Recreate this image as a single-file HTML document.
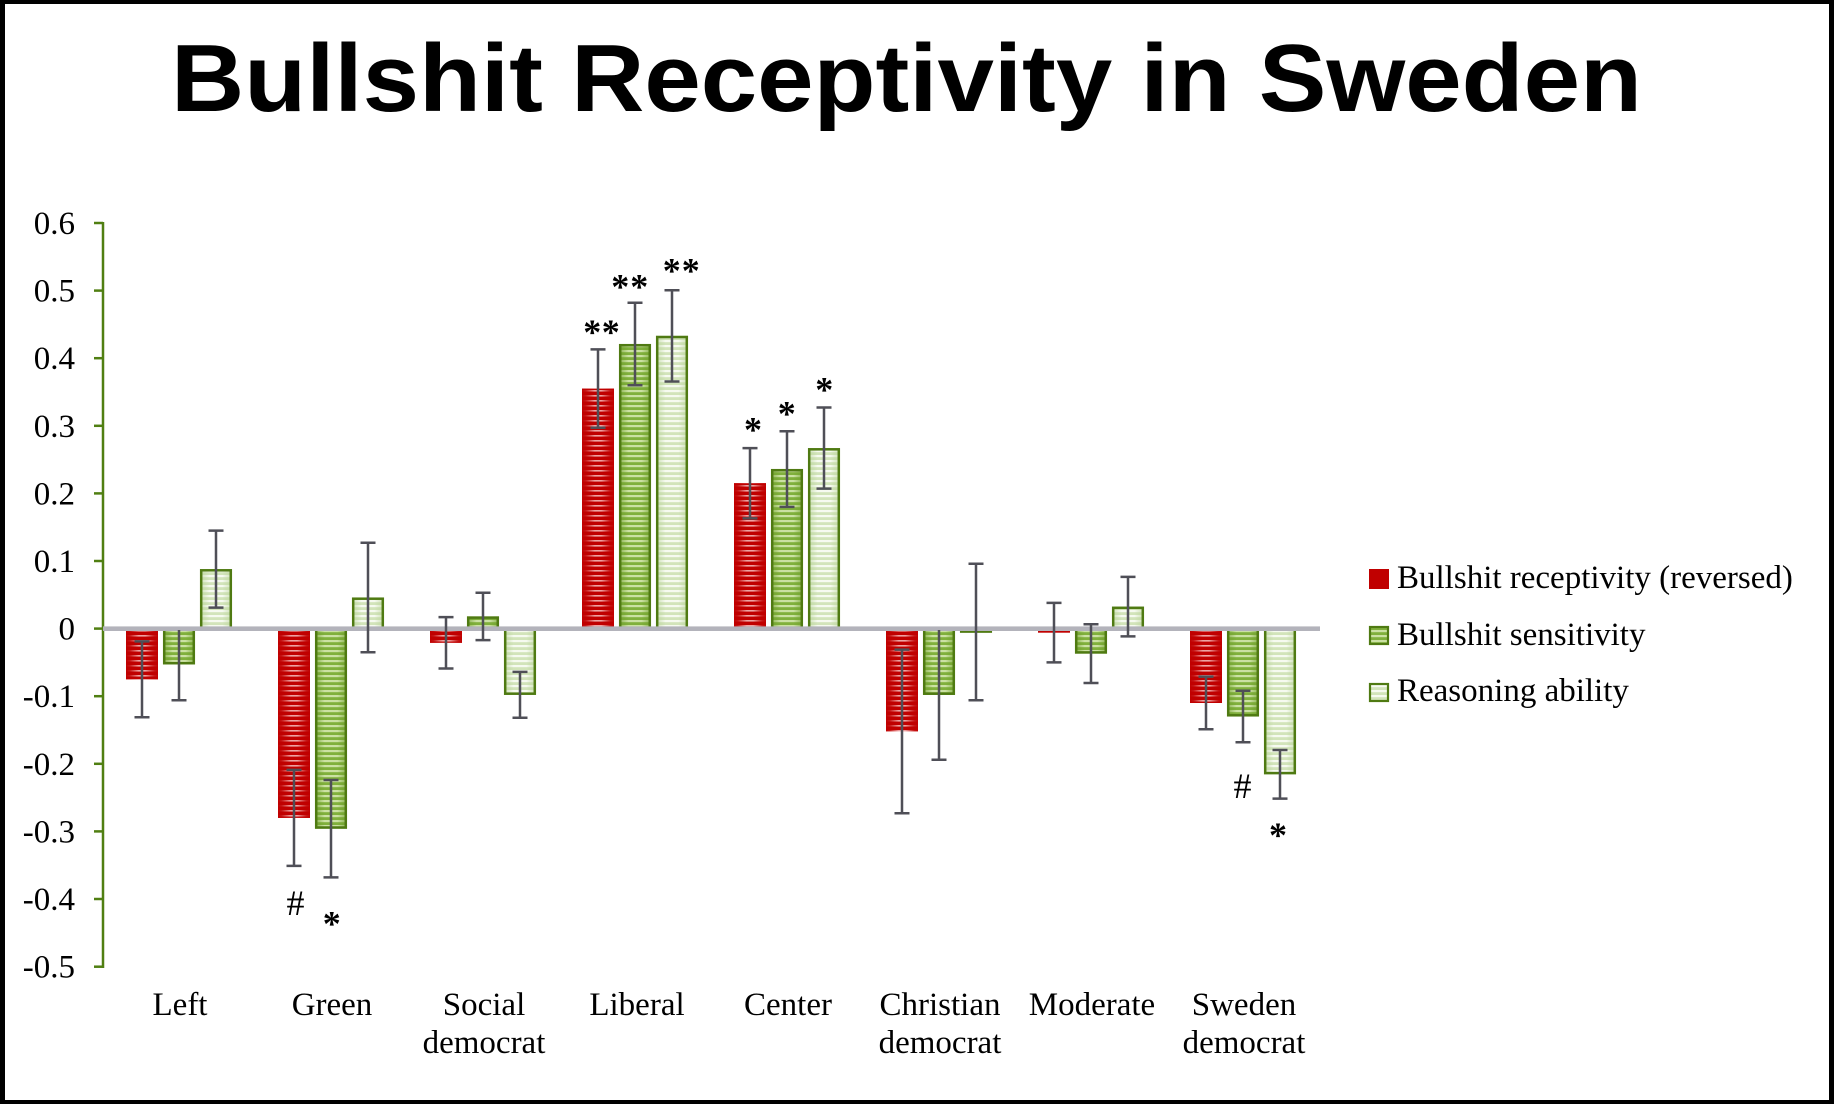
<!DOCTYPE html>
<html>
<head>
<meta charset="utf-8">
<style>
html,body{margin:0;padding:0;background:#fff;}
svg{display:block;}
text{font-family:"Liberation Serif","Times New Roman",serif;}
</style>
</head>
<body>
<svg width="1834" height="1104" viewBox="0 0 1834 1104" xmlns="http://www.w3.org/2000/svg">
<defs>
  <pattern id="redPat" patternUnits="userSpaceOnUse" width="10" height="5">
    <rect width="10" height="5" fill="#C00000"/>
    <rect y="0" width="10" height="1.6" fill="#EDA3A3"/>
  </pattern>
  <pattern id="greenPat" patternUnits="userSpaceOnUse" width="10" height="5">
    <rect width="10" height="5" fill="#80B03C"/>
    <rect y="0" width="10" height="2.2" fill="#CBE1A3"/>
  </pattern>
  <pattern id="lightPat" patternUnits="userSpaceOnUse" width="10" height="5">
    <rect width="10" height="5" fill="#D2E4BA"/>
    <rect y="0" width="10" height="2.2" fill="#F6FAF0"/>
  </pattern>
  <linearGradient id="redEdge" x1="0" y1="0" x2="1" y2="0">
    <stop offset="0" stop-color="#C00000" stop-opacity="1"/>
    <stop offset="0.12" stop-color="#C00000" stop-opacity="0.85"/>
    <stop offset="0.4" stop-color="#C00000" stop-opacity="0"/>
    <stop offset="0.6" stop-color="#C00000" stop-opacity="0"/>
    <stop offset="0.88" stop-color="#C00000" stop-opacity="0.85"/>
    <stop offset="1" stop-color="#C00000" stop-opacity="1"/>
  </linearGradient>
  <linearGradient id="greenEdge" x1="0" y1="0" x2="1" y2="0">
    <stop offset="0" stop-color="#6E9E2C" stop-opacity="0.7"/>
    <stop offset="0.3" stop-color="#6E9E2C" stop-opacity="0"/>
    <stop offset="0.7" stop-color="#6E9E2C" stop-opacity="0"/>
    <stop offset="1" stop-color="#6E9E2C" stop-opacity="0.7"/>
  </linearGradient>
  <linearGradient id="lightEdge" x1="0" y1="0" x2="1" y2="0">
    <stop offset="0" stop-color="#B9D39A" stop-opacity="0.7"/>
    <stop offset="0.3" stop-color="#B9D39A" stop-opacity="0"/>
    <stop offset="0.7" stop-color="#B9D39A" stop-opacity="0"/>
    <stop offset="1" stop-color="#B9D39A" stop-opacity="0.7"/>
  </linearGradient>
</defs>

<!-- frame -->
<rect x="0" y="0" width="1834" height="1104" fill="#000"/>
<rect x="5" y="4" width="1824" height="1096" fill="#fff"/>

<!-- title -->
<text x="171" y="111" font-family="Liberation Sans, Arial, sans-serif" style="font-family:'Liberation Sans',Arial,sans-serif" font-weight="bold" font-size="96" textLength="1471" lengthAdjust="spacingAndGlyphs" fill="#000">Bullshit Receptivity in Sweden</text>

<!-- y axis -->
<g stroke="#507F12" stroke-width="2.5">
  <line x1="103" y1="222" x2="103" y2="968"/>
  <line x1="94" y1="223" x2="103" y2="223"/>
  <line x1="94" y1="290.6" x2="103" y2="290.6"/>
  <line x1="94" y1="358.2" x2="103" y2="358.2"/>
  <line x1="94" y1="425.8" x2="103" y2="425.8"/>
  <line x1="94" y1="493.4" x2="103" y2="493.4"/>
  <line x1="94" y1="561.0" x2="103" y2="561.0"/>
  <line x1="94" y1="628.6" x2="103" y2="628.6"/>
  <line x1="94" y1="696.2" x2="103" y2="696.2"/>
  <line x1="94" y1="763.8" x2="103" y2="763.8"/>
  <line x1="94" y1="831.4" x2="103" y2="831.4"/>
  <line x1="94" y1="899.0" x2="103" y2="899.0"/>
  <line x1="94" y1="966.7" x2="103" y2="966.7"/>
</g>
<g font-size="33" fill="#000" text-anchor="end">
  <text x="75" y="234">0.6</text>
  <text x="75" y="301.6">0.5</text>
  <text x="75" y="369.2">0.4</text>
  <text x="75" y="436.8">0.3</text>
  <text x="75" y="504.4">0.2</text>
  <text x="75" y="572">0.1</text>
  <text x="75" y="639.6">0</text>
  <text x="75" y="707.2">-0.1</text>
  <text x="75" y="774.8">-0.2</text>
  <text x="75" y="842.4">-0.3</text>
  <text x="75" y="910">-0.4</text>
  <text x="75" y="977.7">-0.5</text>
</g>

<!-- bars: red -->
<g>
  <rect x="126" y="628.6" width="32" height="50.7" fill="url(#redPat)"/>
  <rect x="278" y="628.6" width="32" height="189.3" fill="url(#redPat)"/>
  <rect x="430" y="628.6" width="32" height="14.2" fill="url(#redPat)"/>
  <rect x="582" y="388.6" width="32" height="240" fill="url(#redPat)"/>
  <rect x="734" y="483.2" width="32" height="145.4" fill="url(#redPat)"/>
  <rect x="886" y="628.6" width="32" height="102.8" fill="url(#redPat)"/>
  <rect x="1038" y="628.6" width="32" height="4.1" fill="#C00000"/>
  <rect x="1190" y="628.6" width="32" height="74.4" fill="url(#redPat)"/>
</g>
<g>
  <rect x="126" y="628.6" width="32" height="50.7" fill="url(#redEdge)"/>
  <rect x="278" y="628.6" width="32" height="189.3" fill="url(#redEdge)"/>
  <rect x="430" y="628.6" width="32" height="14.2" fill="url(#redEdge)"/>
  <rect x="582" y="388.6" width="32" height="240" fill="url(#redEdge)"/>
  <rect x="734" y="483.2" width="32" height="145.4" fill="url(#redEdge)"/>
  <rect x="886" y="628.6" width="32" height="102.8" fill="url(#redEdge)"/>
  <rect x="1190" y="628.6" width="32" height="74.4" fill="url(#redEdge)"/>
</g>

<!-- bars: green (sensitivity) -->
<g>
  <rect x="163" y="628.6" width="32" height="35.8" fill="url(#greenPat)"/>
  <rect x="315" y="628.6" width="32" height="200.1" fill="url(#greenPat)"/>
  <rect x="467" y="616.4" width="32" height="12.2" fill="url(#greenPat)"/>
  <rect x="619" y="344.0" width="32" height="284.6" fill="url(#greenPat)"/>
  <rect x="771" y="469.0" width="32" height="159.6" fill="url(#greenPat)"/>
  <rect x="923" y="628.6" width="32" height="66.3" fill="url(#greenPat)"/>
  <rect x="1075" y="628.6" width="32" height="25" fill="url(#greenPat)"/>
  <rect x="1227" y="628.6" width="32" height="87.9" fill="url(#greenPat)"/>
</g>
<g>
  <rect x="163" y="628.6" width="32" height="35.8" fill="url(#greenEdge)"/>
  <rect x="315" y="628.6" width="32" height="200.1" fill="url(#greenEdge)"/>
  <rect x="467" y="616.4" width="32" height="12.2" fill="url(#greenEdge)"/>
  <rect x="619" y="344.0" width="32" height="284.6" fill="url(#greenEdge)"/>
  <rect x="771" y="469.0" width="32" height="159.6" fill="url(#greenEdge)"/>
  <rect x="923" y="628.6" width="32" height="66.3" fill="url(#greenEdge)"/>
  <rect x="1075" y="628.6" width="32" height="25" fill="url(#greenEdge)"/>
  <rect x="1227" y="628.6" width="32" height="87.9" fill="url(#greenEdge)"/>
</g>

<!-- bars: light (reasoning) -->
<g>
  <rect x="200" y="569.1" width="32" height="59.5" fill="url(#lightPat)"/>
  <rect x="352" y="597.5" width="32" height="31.1" fill="url(#lightPat)"/>
  <rect x="504" y="628.6" width="32" height="66.3" fill="url(#lightPat)"/>
  <rect x="656" y="335.8" width="32" height="292.8" fill="url(#lightPat)"/>
  <rect x="808" y="448.1" width="32" height="180.5" fill="url(#lightPat)"/>
  <rect x="960" y="628.6" width="32" height="3.4" fill="url(#lightPat)"/>
  <rect x="1112" y="606.6" width="32" height="22" fill="url(#lightPat)"/>
  <rect x="1264" y="628.6" width="32" height="145.7" fill="url(#lightPat)"/>
</g>
<g>
  <rect x="200" y="569.1" width="32" height="59.5" fill="url(#lightEdge)"/>
  <rect x="352" y="597.5" width="32" height="31.1" fill="url(#lightEdge)"/>
  <rect x="504" y="628.6" width="32" height="66.3" fill="url(#lightEdge)"/>
  <rect x="656" y="335.8" width="32" height="292.8" fill="url(#lightEdge)"/>
  <rect x="808" y="448.1" width="32" height="180.5" fill="url(#lightEdge)"/>
  <rect x="1112" y="606.6" width="32" height="22" fill="url(#lightEdge)"/>
  <rect x="1264" y="628.6" width="32" height="145.7" fill="url(#lightEdge)"/>
</g>

<!-- green borders -->
<g fill="none" stroke="#4F7A12" stroke-width="2.5">
  <rect x="164.2" y="628.6" width="29.6" height="34.6"/>
  <rect x="316.2" y="628.6" width="29.6" height="198.9"/>
  <rect x="468.2" y="617.6" width="29.6" height="11"/>
  <rect x="620.2" y="345.2" width="29.6" height="283.4"/>
  <rect x="772.2" y="470.2" width="29.6" height="158.4"/>
  <rect x="924.2" y="628.6" width="29.6" height="65.1"/>
  <rect x="1076.2" y="628.6" width="29.6" height="23.8"/>
  <rect x="1228.2" y="628.6" width="29.6" height="86.7"/>

  <rect x="201.2" y="570.3" width="29.6" height="58.3"/>
  <rect x="353.2" y="598.7" width="29.6" height="29.9"/>
  <rect x="505.2" y="628.6" width="29.6" height="65.1"/>
  <rect x="657.2" y="337.0" width="29.6" height="291.6"/>
  <rect x="809.2" y="449.3" width="29.6" height="179.3"/>
  <rect x="961.2" y="628.6" width="29.6" height="3"/>
  <rect x="1113.2" y="607.8" width="29.6" height="20.8"/>
  <rect x="1265.2" y="628.6" width="29.6" height="144.5"/>
</g>

<!-- zero line -->
<rect x="103" y="626.4" width="1217" height="4.6" fill="#B3B3BB"/>

<!-- error bars -->
<g stroke="#4F4F57" stroke-width="2.5" fill="none">
  <!-- Left -->
  <path d="M142 641.4V717.2M134.5 641.4H149.5M134.5 717.2H149.5"/>
  <path d="M179 630V700.3M171.5 700.3H186.5"/>
  <path d="M216 530.6V607.6M208.5 530.6H223.5M208.5 607.6H223.5"/>
  <!-- Green -->
  <path d="M294 769.9V865.9M286.5 769.9H301.5M286.5 865.9H301.5"/>
  <path d="M331 780V877.4M323.5 780H338.5M323.5 877.4H338.5"/>
  <path d="M368 542.7V652.3M360.5 542.7H375.5M360.5 652.3H375.5"/>
  <!-- Social -->
  <path d="M446 617.1V668.5M438.5 617.1H453.5M438.5 668.5H453.5"/>
  <path d="M483 592.8V640.1M475.5 592.8H490.5M475.5 640.1H490.5"/>
  <path d="M520 671.9V717.8M512.5 671.9H527.5M512.5 717.8H527.5"/>
  <!-- Liberal -->
  <path d="M598 349.4V427.8M590.5 349.4H605.5M590.5 427.8H605.5"/>
  <path d="M635 302.7V385.2M627.5 302.7H642.5M627.5 385.2H642.5"/>
  <path d="M672 290.2V381.5M664.5 290.2H679.5M664.5 381.5H679.5"/>
  <!-- Center -->
  <path d="M750 448.1V518.4M742.5 448.1H757.5M742.5 518.4H757.5"/>
  <path d="M787 431.2V506.9M779.5 431.2H794.5M779.5 506.9H794.5"/>
  <path d="M824 407.5V488.6M816.5 407.5H831.5M816.5 488.6H831.5"/>
  <!-- Christian -->
  <path d="M902 649.6V813.2M894.5 649.6H909.5M894.5 813.2H909.5"/>
  <path d="M939 630V759.8M931.5 759.8H946.5"/>
  <path d="M976 563.7V700.3M968.5 563.7H983.5M968.5 700.3H983.5"/>
  <!-- Moderate -->
  <path d="M1054 602.9V662.4M1046.5 602.9H1061.5M1046.5 662.4H1061.5"/>
  <path d="M1091 624.2V683M1083.5 624.2H1098.5M1083.5 683H1098.5"/>
  <path d="M1128 576.9V636.4M1120.5 576.9H1135.5M1120.5 636.4H1135.5"/>
  <!-- Sweden -->
  <path d="M1206 676.6V729.3M1198.5 676.6H1213.5M1198.5 729.3H1213.5"/>
  <path d="M1243 690.8V742.2M1235.5 690.8H1250.5M1235.5 742.2H1250.5"/>
  <path d="M1280 750V798.6M1272.5 750H1287.5M1272.5 798.6H1287.5"/>
</g>

<!-- significance markers -->
<g font-size="36" font-weight="bold" fill="#000" text-anchor="middle">
  <text x="592.3" y="344">*</text>
  <text x="610.7" y="344">*</text>
  <text x="620.3" y="298.7">*</text>
  <text x="639.3" y="298.7">*</text>
  <text x="671.7" y="282.3">*</text>
  <text x="690.7" y="282.3">*</text>
  <text x="753" y="441.3">*</text>
  <text x="786.7" y="425.7">*</text>
  <text x="824.3" y="401.3">*</text>
  <text x="331.7" y="935.5">*</text>
  <text x="1278" y="847">*</text>
</g>
<g font-size="36" fill="#000" text-anchor="middle">
  <text x="295.5" y="915">#</text>
  <text x="1242.5" y="798">#</text>
</g>

<!-- x labels -->
<g font-size="33" fill="#000" text-anchor="middle">
  <text x="180" y="1015">Left</text>
  <text x="332" y="1015">Green</text>
  <text x="484" y="1015">Social</text>
  <text x="484" y="1053">democrat</text>
  <text x="637" y="1015">Liberal</text>
  <text x="788" y="1015">Center</text>
  <text x="940" y="1015">Christian</text>
  <text x="940" y="1053">democrat</text>
  <text x="1092" y="1015">Moderate</text>
  <text x="1244" y="1015">Sweden</text>
  <text x="1244" y="1053">democrat</text>
</g>

<!-- legend -->
<rect x="1369" y="569" width="20" height="20" fill="#C00000"/>
<rect x="1369" y="626" width="20" height="19" fill="url(#greenPat)"/>
<rect x="1370" y="627" width="18" height="17" fill="none" stroke="#4F7A12" stroke-width="2.2"/>
<rect x="1369" y="683" width="20" height="19" fill="url(#lightPat)"/>
<rect x="1370" y="684" width="18" height="17" fill="none" stroke="#4F7A12" stroke-width="2.2"/>
<g font-size="33" fill="#000">
  <text x="1397" y="588">Bullshit receptivity (reversed)</text>
  <text x="1397" y="645">Bullshit sensitivity</text>
  <text x="1397" y="701">Reasoning ability</text>
</g>
</svg>
</body>
</html>
